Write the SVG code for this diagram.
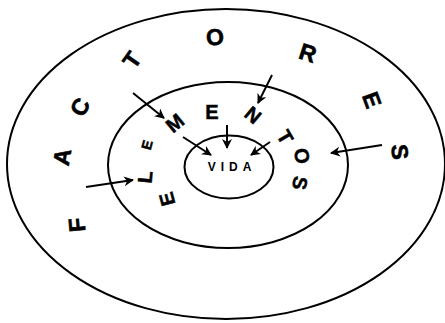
<svg xmlns="http://www.w3.org/2000/svg" width="445" height="323" viewBox="0 0 445 323">
<style>
.ring{fill:none;stroke:#000;stroke-width:2}
.big{font-family:"Liberation Sans",Arial,sans-serif;font-weight:bold;font-size:23px;fill:#000;stroke:#000;stroke-width:0.6;text-anchor:middle;dominant-baseline:central}
.mid{font-family:"Liberation Sans",Arial,sans-serif;font-weight:bold;font-size:20px;fill:#000;stroke:#000;stroke-width:0.5;text-anchor:middle;dominant-baseline:central}
.vida{font-family:"Liberation Sans",Arial,sans-serif;font-weight:bold;font-size:12px;letter-spacing:5px;fill:#000;text-anchor:middle;dominant-baseline:central}
.arr{stroke:#000;stroke-width:2;fill:none;marker-end:url(#ah)}
</style>
<defs>
<marker id="ah" viewBox="0 0 10 10" refX="9" refY="5" markerWidth="5" markerHeight="5" orient="auto" markerUnits="strokeWidth">
<path d="M0,0 L10,5 L0,10 L3,5 z" fill="#000"/>
</marker>
</defs>
<g id="factores">
<ellipse class="ring" cx="226" cy="164" rx="219" ry="155"/>
<text class="big" transform="translate(77,225) rotate(-95)">F</text>
<text class="big" transform="translate(62,157) rotate(-80)">A</text>
<text class="big" transform="translate(80,107) rotate(-60)">C</text>
<text class="big" transform="translate(132,60) rotate(-55)">T</text>
<text class="big" transform="translate(215,37) rotate(-5)">O</text>
<text class="big" transform="translate(308,53) rotate(18)">R</text>
<text class="big" transform="translate(372,100) rotate(70)">E</text>
<text class="big" transform="translate(400,152) rotate(85)">S</text>
</g>
<g id="elementos">
<ellipse class="ring" cx="228" cy="165" rx="120" ry="83"/>
<text class="mid" transform="translate(167,199) rotate(-105)">E</text>
<text class="mid" transform="translate(145,177) rotate(-85)">L</text>
<text class="mid" style="font-size:14px" transform="translate(147,145) rotate(-75)">E</text>
<text class="mid" transform="translate(175,123) rotate(-40)">M</text>
<text class="mid" transform="translate(212,112)">E</text>
<text class="mid" transform="translate(253,115) rotate(40)">N</text>
<text class="mid" transform="translate(285,137) rotate(60)">T</text>
<text class="mid" transform="translate(302,156) rotate(80)">O</text>
<text class="mid" transform="translate(300,183) rotate(100)">S</text>
</g>
<g id="vida">
<ellipse class="ring" cx="229" cy="167" rx="44.5" ry="31.5"/>
<text class="vida" x="232" y="167">VIDA</text>
</g>
<g id="connectors">
<line class="arr" x1="133" y1="93" x2="164" y2="118"/>
<line class="arr" x1="272" y1="75" x2="258" y2="103"/>
<line class="arr" x1="382" y1="145" x2="331" y2="153"/>
<line class="arr" x1="86" y1="187" x2="133" y2="180"/>
<line class="arr" x1="183" y1="137" x2="211" y2="155"/>
<line class="arr" x1="227" y1="125" x2="227" y2="148"/>
<line class="arr" x1="270" y1="142" x2="251" y2="155"/>
</g>
</svg>
